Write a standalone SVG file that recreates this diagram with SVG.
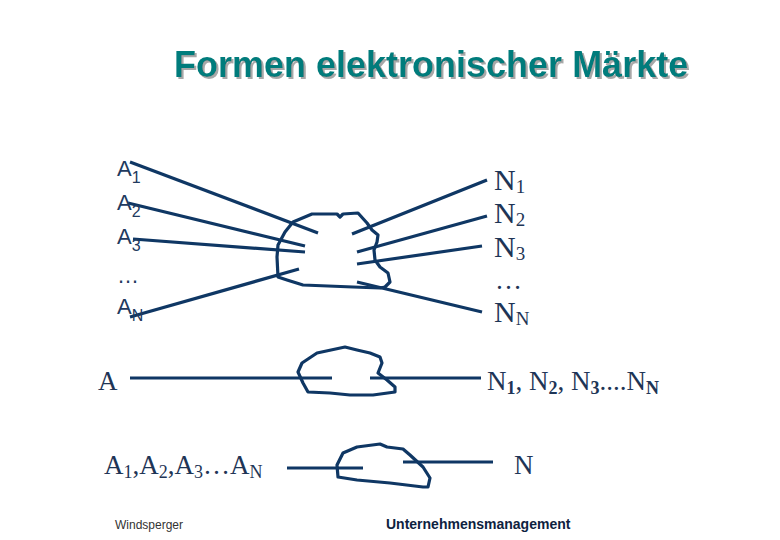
<svg xmlns="http://www.w3.org/2000/svg" width="780" height="540" viewBox="0 0 780 540">
<defs>
<filter id="shadow" x="-5%" y="-20%" width="110%" height="150%">
<feDropShadow dx="2" dy="2" stdDeviation="0.6" flood-color="#a8a8a8" flood-opacity="1"/>
</filter>
</defs>
<style>
.title{font-family:"Liberation Sans",Arial,sans-serif;font-weight:bold;font-size:36px;fill:#007b7b}
.sans{font-family:"Liberation Sans",Arial,sans-serif;font-size:22px;fill:#223a5e}
.serif{font-family:"Liberation Serif","Times New Roman",serif;font-size:27px;fill:#1e3556}
.big{font-size:30px}
.ln{stroke:#0f3764;stroke-width:3.2;fill:none;stroke-linecap:butt}
.cloud{stroke:#0f3764;stroke-width:3.2;fill:none;stroke-linejoin:round}
</style>
<rect width="780" height="540" fill="#ffffff"/>
<g id="title">
<text class="title" x="174" y="77" filter="url(#shadow)">Formen elektronischer Märkte</text>
</g>
<g id="connectors">
<line class="ln" x1="130" y1="162" x2="318" y2="233"/>
<line class="ln" x1="128" y1="203" x2="305" y2="246"/>
<line class="ln" x1="133" y1="239" x2="305" y2="252"/>
<line class="ln" x1="130" y1="317" x2="299" y2="269"/>
<line class="ln" x1="352" y1="234" x2="487" y2="180"/>
<line class="ln" x1="357" y1="252" x2="487" y2="216"/>
<line class="ln" x1="357" y1="264" x2="482" y2="246"/>
<line class="ln" x1="357" y1="282" x2="482" y2="312"/>
</g>
<g id="cloud1">
<path class="cloud" d="M278,277 L277,257 L278,245 L285,232 L293,222 L312,214 L337,214 L340,217 L343,214 L358,213 L367,223 L372,230 L378,235 L377,242 L374,250 L375,260 L380,267 L388,273 L390,282 L385,287 L380,288 L353,287 L303,285 L287,280 Z"/>
</g>
<g id="labels-a">
<text class="sans" x="117" y="176">A<tspan font-size="16" dy="7">1</tspan></text>
<text class="sans" x="117" y="210">A<tspan font-size="16" dy="7">2</tspan></text>
<text class="sans" x="117" y="244">A<tspan font-size="16" dy="7">3</tspan></text>
<text class="sans" x="117" y="283">…</text>
<text class="sans" x="117" y="314">A<tspan font-size="16" dy="7">N</tspan></text>
</g>
<g id="labels-n">
<text class="serif big" x="494" y="190">N<tspan font-size="19" dy="3">1</tspan></text>
<text class="serif big" x="494" y="223">N<tspan font-size="19" dy="3">2</tspan></text>
<text class="serif big" x="494" y="257">N<tspan font-size="19" dy="3">3</tspan></text>
<text class="serif" x="495" y="289">…</text>
<text class="serif big" x="494" y="322">N<tspan font-size="19" dy="3">N</tspan></text>
</g>
<g id="row2">
<line class="ln" x1="130" y1="378" x2="332" y2="378"/>
<line class="ln" x1="370" y1="378" x2="481" y2="378"/>
<path class="cloud" d="M345,347 L317,353 L302,363 L298,372 L303,383 L308,392 L330,393 L350,395 L373,395 L395,392 L395,387 L387,380 L378,373 L382,363 L380,357 L370,353 L357,350 Z"/>
<text class="serif" x="98" y="390">A</text>
<text class="serif" x="487" y="390">N<tspan font-size="18" font-weight="bold" dy="4">1</tspan><tspan dy="-4">, N</tspan><tspan font-size="18" font-weight="bold" dy="4">2</tspan><tspan dy="-4">, N</tspan><tspan font-size="18" font-weight="bold" dy="4">3</tspan><tspan dy="-4">....N</tspan><tspan font-size="18" font-weight="bold" dy="4">N</tspan></text>
</g>
<g id="row3">
<line class="ln" x1="287" y1="468" x2="363" y2="468"/>
<line class="ln" x1="403" y1="462" x2="493" y2="462"/>
<path class="cloud" d="M337,465 L343,453 L357,447 L380,444 L387,447 L403,449 L410,455 L423,467 L430,478 L428,487 L423,487 L390,483 L357,480 L338,477 Z"/>
<text class="serif" x="104" y="474">A<tspan font-size="18" dy="4">1</tspan><tspan dy="-4">,A</tspan><tspan font-size="18" dy="4">2</tspan><tspan dy="-4">,A</tspan><tspan font-size="18" dy="4">3</tspan><tspan dy="-4">…A</tspan><tspan font-size="18" dy="4">N</tspan></text>
<text class="serif" x="514" y="474">N</text>
</g>
<g id="footer">
<text x="115" y="529" font-family="Liberation Sans, Arial, sans-serif" font-size="12" fill="#333333">Windsperger</text>
<text x="386" y="529" font-family="Liberation Sans, Arial, sans-serif" font-size="14" font-weight="bold" fill="#0e2240">Unternehmensmanagement</text>
</g>
</svg>
